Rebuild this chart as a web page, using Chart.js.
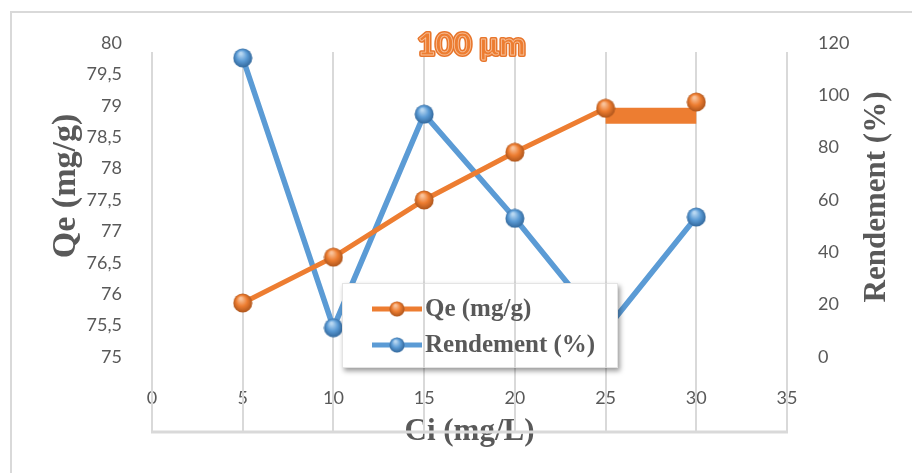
<!DOCTYPE html>
<html>
<head>
<meta charset="utf-8">
<script src="https://cdn.jsdelivr.net/npm/chart.js@4.4.1/dist/chart.umd.min.js"></script>
<style>
    html, body { margin: 0; padding: 0; background: #fff; }
    #wrap { position: relative; width: 912px; height: 473px; overflow: hidden; }
    #frame { position: absolute; left: 10px; top: 11px; right: -5px; bottom: -5px; border-left: 2px solid #d9d9d9; border-top: 2px solid #d9d9d9; }
    canvas { position: absolute; left: 0; top: 0; }
</style>
</head>
<body>
<div id="wrap">
    <div id="frame"></div>
    <canvas id="chart" width="912" height="473"></canvas>
</div>
<script>
// Ci (mg/L) on x, Qe on the left axis, Rendement on the right axis
const ci = [5, 10, 15, 20, 25, 30];
const qe = [75.86, 76.59, 77.5, 78.26, 78.96, 79.06];
const rendement = [114.3, 11.2, 92.8, 53.0, 10.3, 53.5];
// stray orange bar between the last two Qe points (it hides that segment)
const patchX = [25, 30];
const patchY = [78.84, 78.84];

const chartTitle = '100 µm';
const xTitle = 'Ci (mg/L)';
const yLeftTitle = 'Qe (mg/g)';
const yRightTitle = 'Rendement (%)';

const ORANGE = '#ED7D31';
const BLUE = '#5B9BD5';
const GREY_TEXT = '#595959';
const GRID = '#d9d9d9';

function sphere(base, light, dark, d) {
    const c = document.createElement('canvas');
    c.width = d; c.height = d;
    const g = c.getContext('2d');
    const r = d / 2;
    const grad = g.createRadialGradient(r * 0.8, r * 0.55, r * 0.1, r, r, r);
    grad.addColorStop(0, light);
    grad.addColorStop(0.5, base);
    grad.addColorStop(1, dark);
    g.fillStyle = grad;
    g.beginPath();
    g.arc(r, r, r - 0.5, 0, Math.PI * 2);
    g.fill();
    return c;
}

const orangeBall = sphere(ORANGE, '#F9C39B', '#A9521A', 20);
const blueBall = sphere(BLUE, '#B9D8F2', '#2F6498', 20);

const toXY = (xs, ys) => xs.map((x, i) => ({ x: x, y: ys[i] }));

// Excel-style frame: vertical grid through the whole box, legend box over the
// series, grid lines again on top of the legend.
const LEGEND_BOX = { x: 342, y: 283, w: 276, h: 85 };

function drawGrid(chart, clip) {
    const { ctx, chartArea, scales: { x } } = chart;
    const top = chartArea.top + 9;
    const bottom = chartArea.bottom + 75;
    ctx.save();
    if (clip) {
        ctx.beginPath();
        ctx.rect(clip.x, clip.y, clip.w, clip.h);
        ctx.clip();
    }
    ctx.strokeStyle = GRID;
    ctx.lineWidth = 2;
    x.ticks.forEach(t => {
        const px = Math.round(x.getPixelForValue(t.value));
        ctx.beginPath();
        ctx.moveTo(px, top);
        ctx.lineTo(px, bottom);
        ctx.stroke();
    });
    ctx.lineWidth = 3;
    ctx.beginPath();
    ctx.moveTo(chartArea.left - 1, bottom);
    ctx.lineTo(chartArea.right + 1, bottom);
    ctx.stroke();
    ctx.restore();
}

const excelDecor = {
    id: 'excelDecor',
    beforeDatasetsDraw(chart) {
        drawGrid(chart);
    },
    afterDatasetsDraw(chart) {
        const { ctx, chartArea } = chart;
        const b = LEGEND_BOX;

        // legend box
        ctx.save();
        ctx.shadowColor = 'rgba(0, 0, 0, 0.4)';
        ctx.shadowBlur = 5;
        ctx.shadowOffsetX = 2;
        ctx.shadowOffsetY = 3;
        ctx.fillStyle = '#fff';
        ctx.fillRect(b.x, b.y, b.w, b.h);
        ctx.restore();
        ctx.save();
        ctx.strokeStyle = '#e4e4e4';
        ctx.lineWidth = 1;
        ctx.strokeRect(b.x + 0.5, b.y + 0.5, b.w - 1, b.h - 1);
        ctx.restore();

        drawGrid(chart, b);

        const items = chart.data.datasets.filter(d => !d.hideInLegend);
        ctx.save();
        ctx.font = 'bold 25px "Liberation Serif"';
        ctx.textBaseline = 'middle';
        ctx.textAlign = 'left';
        items.forEach((d, i) => {
            const cy = b.y + 26 + i * 36;
            ctx.strokeStyle = d.borderColor;
            ctx.lineWidth = 5;
            ctx.beginPath();
            ctx.moveTo(b.x + 30, cy);
            ctx.lineTo(b.x + 80, cy);
            ctx.stroke();
            ctx.drawImage(d.pointStyle, b.x + 47, cy - 8, 16, 16);
            ctx.fillStyle = GREY_TEXT;
            ctx.fillText(d.label, b.x + 83, cy + 1);
        });
        ctx.restore();

        // chart title, WordArt style
        ctx.save();
        ctx.font = 'bold 31px Lato';
        ctx.textAlign = 'center';
        ctx.textBaseline = 'middle';
        const tx = (chartArea.left + chartArea.right) / 2 + 2;
        const ty = chartArea.top + 2;
        ctx.lineJoin = 'round';
        ctx.strokeStyle = '#E8762C';
        ctx.lineWidth = 4;
        ctx.strokeText(chartTitle, tx, ty);
        ctx.fillStyle = ORANGE;
        ctx.fillText(chartTitle, tx, ty);
        ctx.strokeStyle = 'rgba(250, 205, 172, 0.8)';
        ctx.lineWidth = 0.9;
        ctx.strokeText(chartTitle, tx, ty);
        ctx.restore();

        // vertical axis titles, both read bottom to top
        ctx.save();
        ctx.fillStyle = GREY_TEXT;
        ctx.textAlign = 'center';
        ctx.textBaseline = 'middle';
        ctx.font = 'bold 34px "Liberation Serif"';
        ctx.translate(66, 186);
        ctx.rotate(-Math.PI / 2);
        ctx.fillText(yLeftTitle, 0, 0);
        ctx.restore();

        ctx.save();
        ctx.fillStyle = GREY_TEXT;
        ctx.textAlign = 'center';
        ctx.textBaseline = 'middle';
        ctx.font = 'bold 31px "Liberation Serif"';
        ctx.translate(877, 197);
        ctx.rotate(-Math.PI / 2);
        ctx.fillText(yRightTitle, 0, 0);
        ctx.restore();
    },
};

const tickFont = { family: 'Lato', size: 18 };
const hiddenSegment = qe.length - 2;

new Chart(document.getElementById('chart'), {
    type: 'line',
    data: {
        datasets: [
            {
                label: 'Qe (mg/g)',
                data: toXY(ci, qe),
                borderColor: ORANGE,
                backgroundColor: ORANGE,
                borderWidth: 5,
                pointStyle: orangeBall,
                pointRadius: 10,
                tension: 0,
                yAxisID: 'y',
                order: 0,
                segment: {
                    borderColor: c => (c.p0DataIndex === hiddenSegment ? 'rgba(0,0,0,0)' : undefined),
                },
            },
            {
                label: 'Rendement (%)',
                data: toXY(ci, rendement),
                borderColor: BLUE,
                backgroundColor: BLUE,
                borderWidth: 5.5,
                pointStyle: blueBall,
                pointRadius: 10,
                tension: 0,
                yAxisID: 'y1',
                order: 1,
            },
            {
                label: 'patch',
                hideInLegend: true,
                data: toXY(patchX, patchY),
                borderColor: ORANGE,
                borderWidth: 16,
                borderCapStyle: 'butt',
                pointRadius: 0,
                yAxisID: 'y',
                order: 2,
            },
        ],
    },
    options: {
        responsive: false,
        animation: false,
        layout: { padding: { top: 43, left: 0, right: 0, bottom: 0 } },
        plugins: {
            legend: { display: false },
            tooltip: { enabled: false },
        },
        scales: {
            x: {
                type: 'linear',
                min: 0,
                max: 35,
                grid: { display: false },
                border: { display: false },
                ticks: { stepSize: 5, font: tickFont, color: GREY_TEXT, padding: 22, maxRotation: 0 },
                title: {
                    display: true,
                    text: xTitle,
                    color: GREY_TEXT,
                    font: { family: 'Liberation Serif', weight: 'bold', size: 31 },
                    padding: { top: 0, bottom: 22 },
                },
                afterFit: s => { s.height = 116; },
            },
            y: {
                position: 'left',
                min: 75,
                max: 80,
                grid: { display: false },
                border: { display: false },
                ticks: {
                    stepSize: 0.5,
                    font: tickFont,
                    color: GREY_TEXT,
                    padding: 22,
                    callback: v => String(v).replace('.', ','),
                },
                afterFit: s => { s.width = 152; },
            },
            y1: {
                position: 'right',
                min: 0,
                max: 120,
                grid: { display: false },
                border: { display: false },
                ticks: { stepSize: 20, font: tickFont, color: GREY_TEXT, padding: 23 },
                afterFit: s => { s.width = 125; },
            },
        },
    },
    plugins: [excelDecor],
});
</script>
</body>
</html>
